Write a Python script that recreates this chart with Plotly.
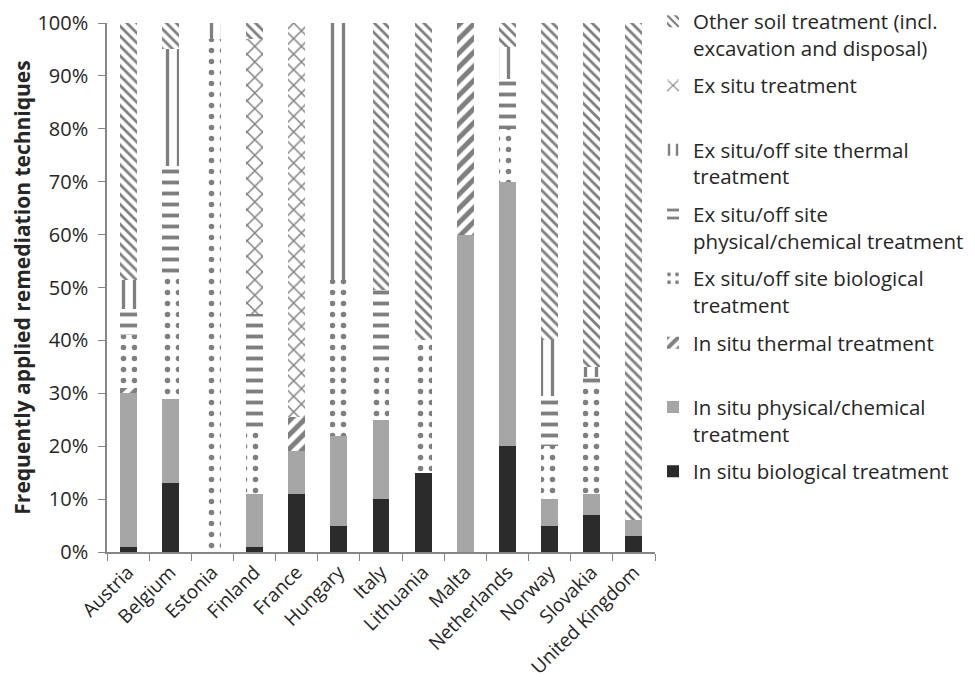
import plotly.graph_objects as go

countries = ["Austria", "Belgium", "Estonia", "Finland", "France", "Hungary", "Italy",
             "Lithuania", "Malta", "Netherlands", "Norway", "Slovakia", "United Kingdom"]

in_situ_bio = [1, 13, 0, 1, 11, 5, 10, 15, 0, 20, 5, 7, 3]
in_situ_phys = [29, 16, 0, 10, 8, 17, 15, 0, 60, 50, 5, 4, 3]
in_situ_thermal = [1, 0, 0, 0, 6.5, 0, 0, 0, 40, 0, 0, 0, 0]
ex_bio = [10, 23.5, 97, 12.5, 0, 29.5, 10.5, 25, 0, 10, 10, 21, 0]
ex_phys = [5, 20.5, 0, 21.5, 0, 0, 14, 0, 0, 9.5, 9.5, 1, 0]
ex_thermal = [5.5, 22, 3, 0, 0, 48.5, 0, 0, 0, 6, 10.5, 2, 0]
ex_situ = [0, 0, 0, 52, 74.5, 0, 0, 0, 0, 0, 0, 0, 0]
other = [48.5, 5, 0, 3, 0, 0, 50.5, 60, 0, 4.5, 60, 65, 94]

series_names = [
    "In situ biological treatment<br> ",
    "In situ physical/chemical<br>treatment",
    "In situ thermal treatment<br> ",
    "Ex situ/off site biological<br>treatment",
    "Ex situ/off site<br>physical/chemical treatment",
    "Ex situ/off site thermal<br>treatment",
    "Ex situ treatment<br> ",
    "Other soil treatment (incl.<br>excavation and disposal)",
]
series_values = [in_situ_bio, in_situ_phys, in_situ_thermal, ex_bio, ex_phys,
                 ex_thermal, ex_situ, other]

styles = [
    dict(color="#2b2b2b"),
    dict(color="#a6a6a6"),
    dict(color="white", pattern=dict(shape="/", fgcolor="black", bgcolor="white", size=10, solidity=0.5)),
    dict(color="white", pattern=dict(shape=".", fgcolor="black", bgcolor="white", size=11, solidity=0.2)),
    dict(color="white", pattern=dict(shape="-", fgcolor="black", bgcolor="white", size=11, solidity=0.35)),
    dict(color="white", pattern=dict(shape="|", fgcolor="black", bgcolor="white", size=11, solidity=0.3)),
    dict(color="white", pattern=dict(shape="x", fgcolor="black", bgcolor="white", size=11, solidity=0.25)),
    dict(color="white", pattern=dict(shape="\\", fgcolor="black", bgcolor="white", size=7, solidity=0.4)),
]

FONT = "Open Sans"
fig = go.Figure()
n = len(series_names)
for i, (name, vals, st) in enumerate(zip(series_names, series_values, styles)):
    fig.add_trace(go.Bar(
        x=countries, y=vals, name=name, legendgroup=f"g{i}", legendrank=n - i,
        marker=dict(line=dict(width=0), **st),
    ))

# page body has an 8px default margin, so the figure is shrunk / shifted to compensate
fig.update_layout(
    width=967, height=684,
    barmode="stack", bargap=0.6,
    plot_bgcolor="white", paper_bgcolor="white",
    margin=dict(l=99, r=320, t=15, b=140, autoexpand=False),
    font=dict(family=FONT, size=20, color="#262626"),
    legend=dict(
        traceorder="grouped", tracegroupgap=8, valign="top",
        x=0.9964, xanchor="left", y=1.041, yanchor="top",
        font=dict(family=FONT, size=20.5, color="#262626"),
        bgcolor="rgba(0,0,0,0)", maxheight=680,
    ),
    xaxis=dict(
        showline=True, linecolor="#868686", linewidth=1.5,
        ticks="outside", tickson="boundaries", ticklen=7, tickcolor="#868686",
        tickangle=-45, tickfont=dict(family=FONT, size=19, color="#262626"),
    ),
    yaxis=dict(
        range=[0, 100], dtick=10, ticksuffix="%",
        showline=True, linecolor="#868686", linewidth=1.5,
        ticks="outside", ticklen=7, tickcolor="#868686", showgrid=False,
        zeroline=False, ticklabelstandoff=6,
        tickfont=dict(family=FONT, size=20, color="#262626"),
        title=dict(text="<b>Frequently applied remediation techniques</b>",
                   font=dict(family=FONT, size=21, color="#262626"), standoff=8),
    ),
)

fig.write_html("out.html")
